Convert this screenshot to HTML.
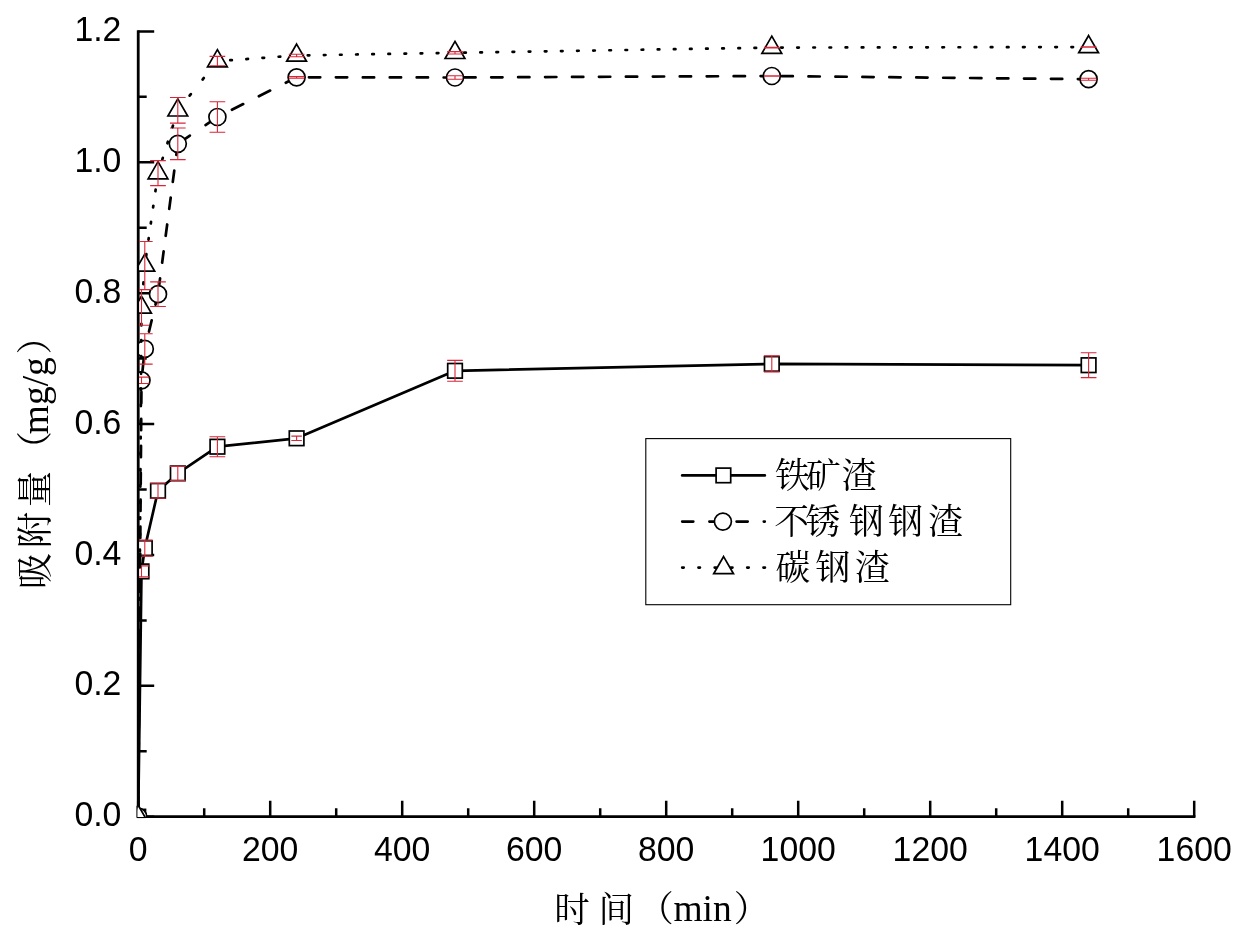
<!DOCTYPE html>
<html lang="zh-CN"><head><meta charset="utf-8"><title>吸附量 - 时间</title>
<style>html,body{margin:0;padding:0;background:#fff}body{width:1247px;height:938px;overflow:hidden}svg{display:block}
.t{font-family:"Liberation Sans",sans-serif;font-size:33.8px;fill:#000}
.c{font-family:"Liberation Serif","Noto Serif CJK SC",serif;fill:#000}
</style></head><body>
<svg width="1247" height="938" viewBox="0 0 1247 938">
<rect width="1247" height="938" fill="#fff"/>
<defs><clipPath id="plot"><rect x="137.3" y="0" width="1120" height="817.0"/></clipPath></defs>
<g stroke="#000" fill="none" stroke-linecap="butt">
<path d="M138.2 30.17V816.7H1195.45" stroke-width="2.75" stroke-linejoin="miter"/>
<path d="M138.2 816.7h16M138.2 751.26h8.5M138.2 685.82h16M138.2 620.38h8.5M138.2 554.94h16M138.2 489.5h8.5M138.2 424.06h16M138.2 358.62h8.5M138.2 293.18h16M138.2 227.74h8.5M138.2 162.3h16M138.2 96.86h8.5M138.2 31.42h16M138.2 816.7v-16M204.2 816.7v-8.5M270.2 816.7v-16M336.2 816.7v-8.5M402.2 816.7v-16M468.2 816.7v-8.5M534.2 816.7v-16M600.2 816.7v-8.5M666.2 816.7v-16M732.2 816.7v-8.5M798.2 816.7v-16M864.2 816.7v-8.5M930.2 816.7v-16M996.2 816.7v-8.5M1062.2 816.7v-16M1128.2 816.7v-8.5M1194.2 816.7v-16" stroke-width="2.5"/>
</g>
<g clip-path="url(#plot)">
<g fill="none" stroke="#000" stroke-width="2.7" stroke-linecap="round" stroke-linejoin="round">
<polyline points="138.2,816.7 141.5,571.4 144.8,548.1 158,490.8 177.8,473.4 217.4,446.7 296.6,438.3 455,370.8 771.8,363.9 1088.6,365.2"/>
</g>
<g fill="#fff" stroke="#000" stroke-width="1.7" stroke-linejoin="miter">
<rect x="130.9" y="809.4" width="14.6" height="14.6"/>
<rect x="134.2" y="564.1" width="14.6" height="14.6"/>
<rect x="137.5" y="540.8" width="14.6" height="14.6"/>
<rect x="150.7" y="483.5" width="14.6" height="14.6"/>
<rect x="170.5" y="466.1" width="14.6" height="14.6"/>
<rect x="210.1" y="439.4" width="14.6" height="14.6"/>
<rect x="289.3" y="431" width="14.6" height="14.6"/>
<rect x="447.7" y="363.5" width="14.6" height="14.6"/>
<rect x="764.5" y="356.6" width="14.6" height="14.6"/>
<rect x="1081.3" y="357.9" width="14.6" height="14.6"/>
</g>
<g fill="none" stroke="#d92638" stroke-width="1.1">
<path d="M141.5 565.9V576.9M133.65 565.9H149.35M133.65 576.9H149.35"/>
<path d="M144.8 540.1V556.1M136.95 540.1H152.65M136.95 556.1H152.65"/>
<path d="M158 483.3V498.3M150.15 483.3H165.85M150.15 498.3H165.85"/>
<path d="M177.8 466.4V480.4M169.95 466.4H185.65M169.95 480.4H185.65"/>
<path d="M217.4 436.7V456.7M209.55 436.7H225.25M209.55 456.7H225.25"/>
<path d="M296.6 436.1V440.5M291.35 436.1H301.85M291.35 440.5H301.85"/>
<path d="M455 360.4V381.2M447.15 360.4H462.85M447.15 381.2H462.85"/>
<path d="M771.8 355.9V371.9M763.95 355.9H779.65M763.95 371.9H779.65"/>
<path d="M1088.6 352.8V377.6M1080.75 352.8H1096.45M1080.75 377.6H1096.45"/>
</g>
<g fill="none" stroke="#000" stroke-width="2.7" stroke-linecap="round" stroke-linejoin="round">
<line x1="138.2" y1="816.7" x2="141.5" y2="380.3" stroke-dasharray="11.3 15.64" stroke-dashoffset="17.59"/>
<line x1="141.5" y1="380.3" x2="144.8" y2="348.9" stroke-dasharray="11.36 15.73" stroke-dashoffset="17.69"/>
<line x1="144.8" y1="348.9" x2="158" y2="294.2" stroke-dasharray="11.62 16.09" stroke-dashoffset="9.9"/>
<line x1="158" y1="294.2" x2="177.8" y2="143.8" stroke-dasharray="11.4 15.77" stroke-dashoffset="22.59"/>
<line x1="177.8" y1="143.8" x2="217.4" y2="117" stroke-dasharray="13.64 18.89" stroke-dashoffset="-0.94"/>
<line x1="217.4" y1="117" x2="296.6" y2="77.3" stroke-dasharray="12.64 17.49" stroke-dashoffset="13.91"/>
<line x1="296.6" y1="77.3" x2="455" y2="77.5" stroke-dasharray="11.3 15.64" stroke-dashoffset="14.59"/>
<line x1="455" y1="77.5" x2="771.8" y2="76" stroke-dasharray="11.3 15.64" stroke-dashoffset="17.69"/>
<line x1="771.8" y1="76" x2="1088.6" y2="79.2" stroke-dasharray="11.3 15.64" stroke-dashoffset="17.19"/>
</g>
<g fill="#fff" stroke="#000" stroke-width="1.7" stroke-linejoin="miter">
<circle cx="138.2" cy="816.7" r="8.5"/>
<circle cx="141.5" cy="380.3" r="8.5"/>
<circle cx="144.8" cy="348.9" r="8.5"/>
<circle cx="158" cy="294.2" r="8.5"/>
<circle cx="177.8" cy="143.8" r="8.5"/>
<circle cx="217.4" cy="117" r="8.5"/>
<circle cx="296.6" cy="77.3" r="8.5"/>
<circle cx="455" cy="77.5" r="8.5"/>
<circle cx="771.8" cy="76" r="8.5"/>
<circle cx="1088.6" cy="79.2" r="8.5"/>
</g>
<g fill="none" stroke="#d92638" stroke-width="1.1">
<path d="M141.5 377.1V383.5M133.65 377.1H149.35M133.65 383.5H149.35"/>
<path d="M144.8 333.7V364.1M136.95 333.7H152.65M136.95 364.1H152.65"/>
<path d="M158 281.9V306.5M150.15 281.9H165.85M150.15 306.5H165.85"/>
<path d="M177.8 128V159.6M169.95 128H185.65M169.95 159.6H185.65"/>
<path d="M217.4 101.8V132.2M209.55 101.8H225.25M209.55 132.2H225.25"/>
<path d="M296.6 76.5V78.1M288.75 76.5H304.45M288.75 78.1H304.45"/>
<path d="M455 75.8V79.2M447.15 75.8H462.85M447.15 79.2H462.85"/>
<path d="M771.8 75.7V76.3M763.95 75.7H779.65M763.95 76.3H779.65"/>
<path d="M1088.6 78.2V80.2M1080.75 78.2H1096.45M1080.75 80.2H1096.45"/>
</g>
<g fill="none" stroke="#000" stroke-width="2.7" stroke-linecap="round" stroke-linejoin="round">
<line x1="138.2" y1="816.7" x2="141.5" y2="307.5" stroke-dasharray="1.6 14.53" stroke-dashoffset="8.78"/>
<line x1="141.5" y1="307.5" x2="144.8" y2="265.5" stroke-dasharray="1.6 14.57" stroke-dashoffset="8.81"/>
<line x1="144.8" y1="265.5" x2="158" y2="173.1" stroke-dasharray="1.62 14.68" stroke-dashoffset="6.46"/>
<line x1="158" y1="173.1" x2="177.8" y2="110.3" stroke-dasharray="1.68 15.24" stroke-dashoffset="2.56"/>
<line x1="177.8" y1="110.3" x2="217.4" y2="61.1" stroke-dasharray="2.05 18.65" stroke-dashoffset="1.9"/>
<line x1="217.4" y1="61.1" x2="296.6" y2="55.5" stroke-dasharray="1.6 14.57" stroke-dashoffset="3.29"/>
<line x1="296.6" y1="55.5" x2="455" y2="52.8" stroke-dasharray="1.6 14.53" stroke-dashoffset="4.98"/>
<line x1="455" y1="52.8" x2="771.8" y2="47.6" stroke-dasharray="1.6 14.53" stroke-dashoffset="6.93"/>
<line x1="771.8" y1="47.6" x2="1088.6" y2="47" stroke-dasharray="1.6 14.53" stroke-dashoffset="6.83"/>
</g>
<g fill="#fff" stroke="#000" stroke-width="1.7" stroke-linejoin="miter">
<path d="M138.2 805.27L148.1 822.42L128.3 822.42Z"/>
<path d="M141.5 296.07L151.4 313.22L131.6 313.22Z"/>
<path d="M144.8 254.07L154.7 271.22L134.9 271.22Z"/>
<path d="M158 161.67L167.9 178.82L148.1 178.82Z"/>
<path d="M177.8 98.87L187.7 116.02L167.9 116.02Z"/>
<path d="M217.4 49.67L227.3 66.82L207.5 66.82Z"/>
<path d="M296.6 44.07L306.5 61.22L286.7 61.22Z"/>
<path d="M455 41.37L464.9 58.52L445.1 58.52Z"/>
<path d="M771.8 36.17L781.7 53.32L761.9 53.32Z"/>
<path d="M1088.6 35.57L1098.5 52.72L1078.7 52.72Z"/>
</g>
<g fill="none" stroke="#d92638" stroke-width="1.1">
<path d="M141.5 289.7V325.3M133.65 289.7H149.35M133.65 325.3H149.35"/>
<path d="M144.8 241.5V289.5M136.95 241.5H152.65M136.95 289.5H152.65"/>
<path d="M158 160.6V185.6M150.15 160.6H165.85M150.15 185.6H165.85"/>
<path d="M177.8 97.5V123.1M169.95 97.5H185.65M169.95 123.1H185.65"/>
<path d="M217.4 56.4V65.8M209.55 56.4H225.25M209.55 65.8H225.25"/>
<path d="M296.6 54.3V56.7M288.75 54.3H304.45M288.75 56.7H304.45"/>
<path d="M455 51.6V54M447.15 51.6H462.85M447.15 54H462.85"/>
<path d="M771.8 47.3V47.9M763.95 47.3H779.65M763.95 47.9H779.65"/>
<path d="M1088.6 46.7V47.3M1080.75 46.7H1096.45M1080.75 47.3H1096.45"/>
</g>
</g>
<path d="M138.05 805.6V31.42" stroke="#000" stroke-width="2.1" fill="none"/>
<path d="M136.95 805.8V817.6H145.6" stroke="#000" stroke-width="0.9" fill="none"/>
<g class="t" text-anchor="middle">
<text transform="translate(138.2,860.7) scale(1,1.04)">0</text>
<text transform="translate(270.2,860.7) scale(1,1.04)">200</text>
<text transform="translate(402.2,860.7) scale(1,1.04)">400</text>
<text transform="translate(534.2,860.7) scale(1,1.04)">600</text>
<text transform="translate(666.2,860.7) scale(1,1.04)">800</text>
<text transform="translate(798.2,860.7) scale(1,1.04)">1000</text>
<text transform="translate(930.2,860.7) scale(1,1.04)">1200</text>
<text transform="translate(1062.2,860.7) scale(1,1.04)">1400</text>
<text transform="translate(1194.2,860.7) scale(1,1.04)">1600</text>
</g>
<g class="t" text-anchor="end">
<text transform="translate(121.4,826.3) scale(1,1.05)">0.0</text>
<text transform="translate(121.4,695.42) scale(1,1.05)">0.2</text>
<text transform="translate(121.4,564.54) scale(1,1.05)">0.4</text>
<text transform="translate(121.4,433.66) scale(1,1.05)">0.6</text>
<text transform="translate(121.4,302.78) scale(1,1.05)">0.8</text>
<text transform="translate(121.4,171.9) scale(1,1.05)">1.0</text>
<text transform="translate(121.4,41.02) scale(1,1.05)">1.2</text>
</g>
<g class="c" font-size="35.5" text-anchor="middle">
<text x="571.9" y="921.6">时</text><text x="616.2" y="921.6">间</text>
<text x="656" y="921">（</text><text x="702.6" y="921" font-size="37.5">min</text><text x="751.5" y="921">）</text>
</g>
<g class="c" font-size="36" text-anchor="middle" transform="translate(47.5,0) rotate(-90)">
<text x="-571" y="0">吸</text><text x="-530" y="0">附</text><text x="-489" y="0">量</text>
<text x="-449" y="0">（</text><text x="-395.7" y="0.5" font-size="37.5">mg/g</text><text x="-336.5" y="0">）</text>
</g>
<rect x="645.8" y="438.6" width="364.9" height="166.1" fill="#fff" stroke="#000" stroke-width="1.1"/>
<g fill="none" stroke="#000" stroke-width="2.7" stroke-linecap="round">
<path d="M682.2 475.4H764.8"/>
<path d="M682.2 521.6H764.8" stroke-dasharray="11.1 16.1"/>
<path d="M682.2 567.6H766" stroke-dasharray="1.5 14.75"/>
</g>
<g fill="#fff" stroke="#000" stroke-width="1.7">
<rect x="716.1" y="468.1" width="14.6" height="14.6"/>
<circle cx="722.9" cy="521.6" r="8.5"/>
<path d="M723.6 556.57L733.5 573.72L713.7 573.72Z"/>
</g>
<g class="c" font-size="34.8" text-anchor="middle">
<text y="487.9"><tspan x="792.5">铁</tspan><tspan x="823.3">矿</tspan><tspan x="859.2">渣</tspan></text>
<text y="533.9"><tspan x="791.6">不</tspan><tspan x="822.9">锈</tspan><tspan x="866.4">钢</tspan><tspan x="905.6">钢</tspan><tspan x="945.7">渣</tspan></text>
<text y="580"><tspan x="792.9">碳</tspan><tspan x="832.9">钢</tspan><tspan x="872.4">渣</tspan></text>
</g>
</svg></body></html>
